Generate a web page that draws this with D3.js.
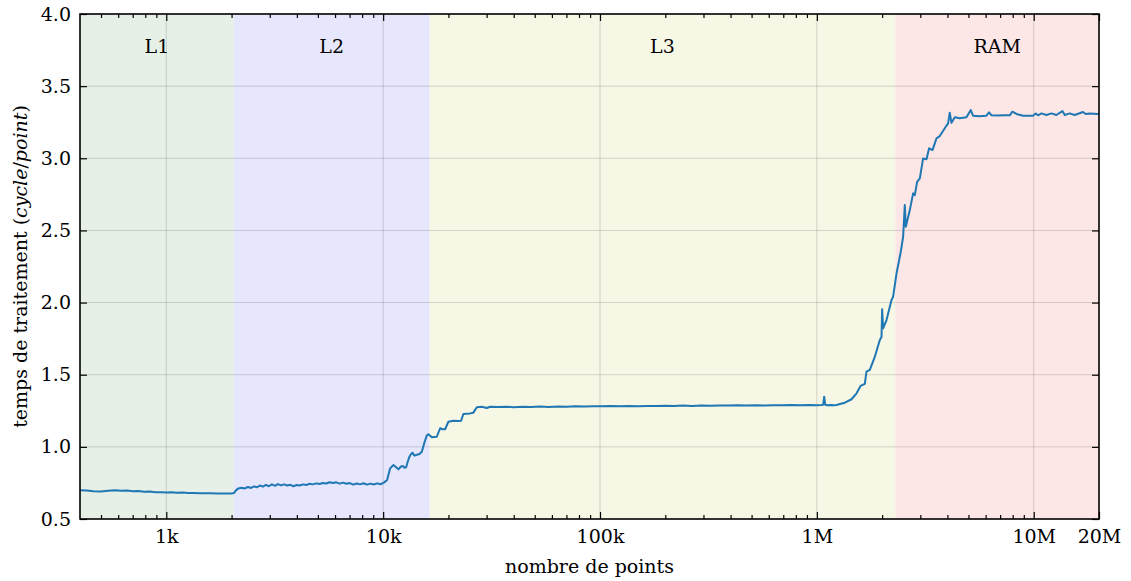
<!DOCTYPE html>
<html>
<head>
<meta charset="utf-8">
<script src="https://cdn.jsdelivr.net/npm/d3@7"></script>
<style>
  html, body { margin: 0; padding: 0; background: #fff; }
  svg { display: block; }
  text { font-family: "DejaVu Serif", "Liberation Serif", serif; fill: #000; }
</style>
</head>
<body>
<svg id="chart" width="1131" height="581"></svg>
<script>
// ---------------- data ----------------
const regionNames = ["L1", "L2", "L3", "RAM"];
const regionBounds = [400, 2048, 16384, 2300000, 20000000];
const regionColors = ["#e6f0e6", "#e6e6fc", "#f7f7e6", "#fde6e6"];

const xTickValues = [1e3, 1e4, 1e5, 1e6, 1e7, 2e7];
const xTickLabels = ["1k", "10k", "100k", "1M", "10M", "20M"];
const yTickValues = [0.5, 1.0, 1.5, 2.0, 2.5, 3.0, 3.5, 4.0];

const nPoints = [
  400, 430, 460, 500, 540, 580, 620, 660, 700, 740, 790, 840, 890, 950,
  1000, 1060, 1120, 1190, 1260, 1340, 1420, 1500, 1600, 1700, 1800, 1900, 2000, 2050,
  2100, 2150, 2220, 2300, 2380, 2460, 2540, 2620, 2700, 2790, 2880, 2970,
  3070, 3170, 3270, 3380, 3490, 3610, 3730, 3860, 3990, 4130, 4270, 4420,
  4580, 4740, 4910, 5090, 5270, 5460, 5660, 5870, 6080, 6300, 6530, 6770,
  7020, 7280, 7550, 7830, 8120, 8420, 8730, 9050, 9380, 9720, 10080,
  10430, 10770, 11155, 11450, 11764, 12050, 12326, 12550, 12764, 13000,
  13220, 13450, 13646, 13940, 14300, 14700, 15080, 15500, 15900, 16180,
  16770, 17200, 17680, 18310, 18800, 19310, 19990, 21090, 22230, 22880,
  23440, 25170, 26070, 27030, 28500, 30060, 31130, 33990, 37000, 40000,
  44000, 48000, 53000, 58000, 64000, 70000, 77000, 85000, 93000, 102000,
  112000, 124000, 136000, 150000, 165000, 182000, 200000, 220000, 242000,
  266000, 293000, 322000, 354000, 390000, 430000, 473000, 520000, 572000,
  630000, 693000, 762000, 838000, 920000, 1000000, 1050000, 1070000, 1081000,
  1092000, 1120000, 1160000, 1200000, 1233000, 1276000, 1346000, 1445000,
  1524000, 1590000, 1664000, 1694000, 1755000, 1851000, 1951000, 1987000,
  2000000, 2021000, 2095000, 2209000, 2247000, 2330000, 2430000, 2499000,
  2544000, 2571000, 2683000, 2779000, 2830000, 2899000, 2984000, 3090000,
  3203000, 3293000, 3413000, 3561000, 3688000, 3889000, 4028000, 4101000,
  4175000, 4324000, 4560000, 4896000, 5125000, 5252000, 5600000, 6053000,
  6223000, 6385000, 6800000, 7300000, 7752000, 7977000, 8324000, 8930000,
  9926000, 10210000, 10470000, 10850000, 11440000, 12070000, 12720000,
  13560000, 13900000, 14650000, 15450000, 16880000, 17360000, 18110000,
  19780000, 20000000
];
const cyclesPerPoint = [
  0.700, 0.697, 0.692, 0.690, 0.696, 0.700, 0.695, 0.697, 0.692, 0.694, 0.689, 0.690, 0.686, 0.685,
  0.684, 0.685, 0.682, 0.683, 0.680, 0.681, 0.679, 0.679, 0.678, 0.677, 0.677, 0.676, 0.677, 0.680,
  0.700, 0.712, 0.716, 0.712, 0.722, 0.715, 0.726, 0.720, 0.732, 0.724, 0.736, 0.727,
  0.740, 0.730, 0.742, 0.733, 0.740, 0.732, 0.737, 0.727, 0.736, 0.732, 0.740, 0.736,
  0.744, 0.740, 0.747, 0.743, 0.750, 0.746, 0.755, 0.750, 0.754, 0.745, 0.752, 0.744,
  0.749, 0.738, 0.746, 0.740, 0.748, 0.738, 0.745, 0.739, 0.747, 0.741, 0.752,
  0.770, 0.851, 0.874, 0.860, 0.844, 0.862, 0.867, 0.855, 0.858, 0.900,
  0.932, 0.950, 0.960, 0.939, 0.945, 0.950, 0.966, 1.030, 1.080, 1.087,
  1.066, 1.068, 1.070, 1.129, 1.122, 1.122, 1.174, 1.181, 1.179, 1.181,
  1.228, 1.232, 1.237, 1.274, 1.278, 1.269, 1.278, 1.276, 1.278, 1.275,
  1.278, 1.276, 1.279, 1.277, 1.280, 1.278, 1.281, 1.279, 1.282, 1.281,
  1.283, 1.281, 1.284, 1.282, 1.284, 1.283, 1.285, 1.284, 1.286,
  1.284, 1.286, 1.285, 1.287, 1.286, 1.288, 1.286, 1.288, 1.287,
  1.289, 1.288, 1.290, 1.288, 1.290, 1.289, 1.290, 1.292, 1.348,
  1.292, 1.288, 1.290, 1.289, 1.290, 1.297, 1.306, 1.330,
  1.371, 1.422, 1.436, 1.521, 1.533, 1.625, 1.740, 1.763,
  1.953, 1.822, 1.879, 2.018, 2.040, 2.203, 2.341, 2.456,
  2.676, 2.526, 2.641, 2.757, 2.745, 2.837, 2.861, 2.999,
  2.993, 3.069, 3.057, 3.138, 3.154, 3.208, 3.242, 3.316,
  3.246, 3.284, 3.277, 3.284, 3.334, 3.295, 3.292, 3.295,
  3.318, 3.298, 3.296, 3.299, 3.298, 3.323, 3.307, 3.295,
  3.295, 3.311, 3.298, 3.311, 3.300, 3.311, 3.300,
  3.327, 3.300, 3.311, 3.300, 3.321, 3.307, 3.311,
  3.307, 3.305
];

// ---------------- layout ----------------
const L = 80, T = 14, R = 1099, B = 519;
const FONT = 19;
const FAMILY = "DejaVu Serif, Liberation Serif, serif";
const svg = d3.select("#chart");

const x = d3.scaleLog().domain([400, 2e7]).range([L, R]);
const y = d3.scaleLinear().domain([0.5, 4.0]).range([B, T]);

// background spans
const regions = regionNames.map((name, i) => ({
  name, x0: regionBounds[i], x1: regionBounds[i + 1], color: regionColors[i]
}));
svg.append("g").selectAll("rect").data(regions).join("rect")
  .attr("x", d => x(d.x0)).attr("y", T)
  .attr("width", d => x(d.x1) - x(d.x0)).attr("height", B - T)
  .attr("fill", d => d.color);

// grid
const gridX = xTickValues.filter(v => v < 2e7);
svg.append("g").selectAll("line").data(gridX).join("line")
  .attr("x1", d => x(d)).attr("x2", d => x(d)).attr("y1", T).attr("y2", B)
  .attr("stroke", "#000").attr("stroke-opacity", 0.15).attr("stroke-width", 1);
svg.append("g").selectAll("line").data(yTickValues.slice(1, -1)).join("line")
  .attr("x1", L).attr("x2", R).attr("y1", d => y(d)).attr("y2", d => y(d))
  .attr("stroke", "#000").attr("stroke-opacity", 0.15).attr("stroke-width", 1);

// region labels
svg.append("g").selectAll("text").data(regions).join("text")
  .attr("x", d => x(Math.sqrt(d.x0 * d.x1))).attr("y", 53)
  .attr("text-anchor", "middle").attr("font-size", FONT)
  .text(d => d.name);

// line
const pts = nPoints.map((n, i) => [n, cyclesPerPoint[i]]);
svg.append("path").datum(pts)
  .attr("fill", "none").attr("stroke", "#1f77b4").attr("stroke-width", 2)
  .attr("stroke-linejoin", "round")
  .attr("d", d3.line().x(d => x(d[0])).y(d => y(d[1])));

// minor ticks
const minorX = [];
for (let e = 2; e <= 7; e++) {
  for (let k = 1; k <= 9; k++) {
    const v = k * Math.pow(10, e);
    if (v > 400 && v < 2e7 && !xTickValues.includes(v)) minorX.push(v);
  }
}

function styleAxis(g) {
  g.select(".domain").remove();
  g.selectAll(".tick line").attr("stroke", "#000").attr("stroke-width", 1.2);
  g.selectAll(".tick text").attr("font-size", FONT).attr("font-family", FAMILY);
}

// bottom
svg.append("g").attr("transform", `translate(0,${B})`)
  .call(d3.axisBottom(x).tickValues(xTickValues)
    .tickFormat((d, i) => xTickLabels[i]).tickSize(-7).tickPadding(11))
  .call(styleAxis);
svg.append("g").attr("transform", `translate(0,${B})`)
  .call(d3.axisBottom(x).tickValues(minorX).tickFormat("").tickSize(-4))
  .call(styleAxis);
// top
svg.append("g").attr("transform", `translate(0,${T})`)
  .call(d3.axisTop(x).tickValues(xTickValues).tickFormat("").tickSize(-7))
  .call(styleAxis);
svg.append("g").attr("transform", `translate(0,${T})`)
  .call(d3.axisTop(x).tickValues(minorX).tickFormat("").tickSize(-4))
  .call(styleAxis);
// left
svg.append("g").attr("transform", `translate(${L},0)`)
  .call(d3.axisLeft(y).tickValues(yTickValues).tickFormat(d3.format(".1f"))
    .tickSize(-7).tickPadding(9))
  .call(styleAxis);
// right
svg.append("g").attr("transform", `translate(${R},0)`)
  .call(d3.axisRight(y).tickValues(yTickValues).tickFormat("").tickSize(-7))
  .call(styleAxis);

// frame
svg.append("rect").attr("x", L).attr("y", T).attr("width", R - L).attr("height", B - T)
  .attr("fill", "none").attr("stroke", "#000").attr("stroke-width", 1.6);

// axis titles
svg.append("text").attr("x", (L + R) / 2).attr("y", 573)
  .attr("text-anchor", "middle").attr("font-size", FONT)
  .text("nombre de points");

const yl = svg.append("text")
  .attr("transform", `translate(27,${(T + B) / 2}) rotate(-90)`)
  .attr("text-anchor", "middle").attr("font-size", FONT);
yl.append("tspan").text("temps de traitement (");
yl.append("tspan").attr("font-style", "italic").text("cycle");
yl.append("tspan").text("/");
yl.append("tspan").attr("font-style", "italic").text("point");
yl.append("tspan").text(")");
</script>
</body>
</html>
